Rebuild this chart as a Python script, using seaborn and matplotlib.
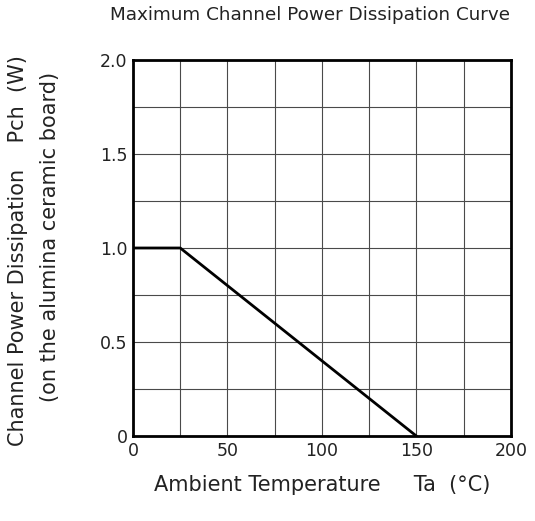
import matplotlib
matplotlib.use("Agg")
import matplotlib.pyplot as plt
import seaborn as sns
import pandas as pd

# curve data: ambient temperature (C) vs channel power dissipation (W)
temperature = [0, 25, 150]
power = [1.0, 1.0, 0.0]

x_ticks = [0, 50, 100, 150, 200]
x_tick_labels = ["0", "50", "100", "150", "200"]
y_ticks = [0, 0.5, 1.0, 1.5, 2.0]
y_tick_labels = ["0", "0.5", "1.0", "1.5", "2.0"]

sns.set_theme(style="white")
plt.rcParams['font.family'] = ['DejaVu Sans']

fig = plt.figure(figsize=(5.35, 5.21), dpi=100)
ax = fig.add_axes([0.2486, 0.163, 0.7064, 0.722])

df = pd.DataFrame({"Ta": temperature, "Pch": power})
sns.lineplot(data=df, x="Ta", y="Pch", ax=ax, color="black", linewidth=2, sort=False)

ax.set_xlim(0, 200)
ax.set_ylim(0, 2.0)
ax.set_xticks(x_ticks)
ax.set_xticklabels(x_tick_labels)
ax.set_yticks(y_ticks)
ax.set_yticklabels(y_tick_labels)
ax.set_xticks(range(25, 200, 50), minor=True)
ax.set_yticks([0.25, 0.75, 1.25, 1.75], minor=True)
ax.grid(True, which="both", color="#4a4a4a", linewidth=0.8)
ax.tick_params(which="both", length=0, labelsize=12.5, colors="#222222", pad=4)
ax.set_axisbelow(True)

for s in ax.spines.values():
    s.set_color("black")
    s.set_linewidth(2)

ax.set_xlabel("")
ax.set_ylabel("")
fig.text(0.602, 0.069, "Ambient Temperature     Ta  (°C)", ha="center", va="center",
         fontsize=15, color="#222222")
fig.text(0.034, 0.52, "Channel Power Dissipation    Pch  (W)", ha="center", va="center",
         rotation=90, fontsize=15, color="#222222")
fig.text(0.093, 0.545, "(on the alumina ceramic board)", ha="center", va="center",
         rotation=90, fontsize=15, color="#222222")
fig.text(0.579, 0.971, "Maximum Channel Power Dissipation Curve", ha="center", va="center",
         fontsize=13.2, color="#222222")

fig.savefig("out.png", dpi=100)
